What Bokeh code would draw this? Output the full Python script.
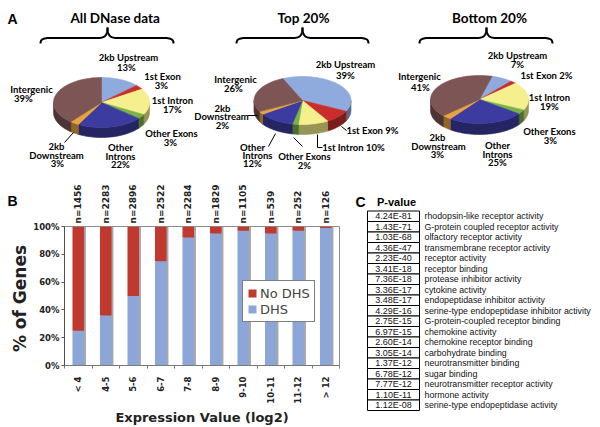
import math
from bokeh.plotting import figure
from bokeh.layouts import column, row
from bokeh.models import (Range1d, LinearAxis, FixedTicker, Legend, LegendItem,
                          PrintfTickFormatter, ColumnDataSource)
from bokeh.core.properties import value
from bokeh.transform import dodge
from bokeh.embed import file_html
from bokeh.resources import INLINE

# ---------------- data ----------------
regions = ["2kb Upstream", "1st Exon", "1st Intron", "Other Exons",
           "Other Introns", "2kb Downstream", "Intergenic"]
region_colors = ["#8FAADC", "#C92E2C", "#F5EF8E", "#78B248", "#3C3CA0", "#E9A33C", "#7D5555"]
pie_titles = ["All DNase data", "Top 20%", "Bottom 20%"]
pct_all = [13, 3, 17, 3, 22, 3, 39]
pct_top = [39, 9, 10, 2, 12, 2, 26]
pct_bottom = [7, 2, 19, 3, 25, 3, 41]

expr_bins = ["< 4", "4-5", "5-6", "6-7", "7-8", "8-9", "9-10", "10-11", "11-12", "> 12"]
n_genes = [1456, 2283, 2896, 2522, 2284, 1829, 1105, 539, 252, 126]
dhs_pct = [25, 36, 50, 75, 92, 95, 97, 95, 97, 99]
pct_ticks = [0, 20, 40, 60, 80, 100]

go_pvalues = ["4.24E-81", "1.43E-71", "1.03E-68", "4.36E-47", "2.23E-40", "3.41E-18",
              "7.36E-18", "3.36E-17", "3.48E-17", "4.29E-16", "2.75E-15", "6.97E-15",
              "2.60E-14", "3.05E-14", "1.37E-12", "6.78E-12", "7.77E-12", "1.10E-11", "1.12E-08"]
go_terms = ["rhodopsin-like receptor activity", "G-protein coupled receptor activity",
            "olfactory receptor activity", "transmembrane receptor activity",
            "receptor activity", "receptor binding", "protease inhibitor activity",
            "cytokine activity", "endopeptidase inhibitor activity",
            "serine-type endopeptidase inhibitor activity", "G-protein-coupled receptor binding",
            "chemokine activity", "chemokine receptor binding", "carbohydrate binding",
            "neurotransmitter binding", "sugar binding", "neurotransmitter receptor activity",
            "hormone activity", "serine-type endopeptidase activity"]

# ---------------- layout (page pixels) ----------------
pie_geom = [(101, 102, 48, 25, 10, 0), (302, 100, 48.5, 24, 10, -24), (479, 99, 49, 24, 11, 15)]
# title anchor x, y and alignment
title_pos = [(70, 17, "left"), (303, 17, "center"), (489, 17, "center")]
brace_pos = [(40, 173, 107), (236, 368, 302), (419, 552, 486)]
pie_label_lines = [
    ("2kb Upstream", 128, 57), ("13%", 126, 66.5), ("1st Exon", 162, 76), ("3%", 161, 85),
    ("1st Intron", 172, 100), ("17%", 172, 109), ("Other Exons", 171, 133), ("3%", 170, 142),
    ("Other", 120, 147), ("Introns", 120, 155.5), ("22%", 120, 164),
    ("2kb", 56, 146), ("Downstream", 56, 154.5), ("3%", 57, 163),
    ("Intergenic", 31, 89), ("39%", 23, 98),
    ("2kb Upstream", 345, 64), ("39%", 345, 75), ("Intergenic", 235, 79), ("26%", 233, 87.5),
    ("2kb", 222, 108), ("Downstream", 221, 116), ("2%", 222, 124.5),
    ("1st Exon 9%", 372, 129.5), ("1st Intron 10%", 353, 146.5),
    ("Other Exons", 304, 155.5), ("2%", 304, 164.5),
    ("Other", 252, 146.5), ("Introns", 257, 154.5), ("12%", 252, 163),
    ("2kb Upstream", 517, 55), ("7%", 517, 63.5), ("1st Exon 2%", 546, 75),
    ("1st Intron", 549, 97), ("19%", 549, 105.5), ("Other Exons", 549, 131), ("3%", 550, 140),
    ("Other", 497, 145), ("Introns", 497, 153.5), ("25%", 497, 162),
    ("2kb", 437, 137), ("Downstream", 438, 145.5), ("3%", 437, 153.5),
    ("Intergenic", 419, 76), ("41%", 420, 87),
]
leader_xs = [[64, 73], [247, 257], [341, 346], [317, 317, 322], [293, 302], [268, 275]]
leader_ys = [[142, 132], [115, 115], [126, 130], [134, 147, 147], [137, 146], [146, 133]]

ROW_TOP, PAGE_H = 178, 427
LEFT_W, BAR_R = 30, 352          # left strip width, right edge of the bar figure
FL, FR, FT, FB = 61, 339, 226, 369  # bar chart frame in page pixels


def darker(hx, f=0.62):
    r, g, b = int(hx[1:3], 16), int(hx[3:5], 16), int(hx[5:7], 16)
    return "#%02x%02x%02x" % (int(r * f), int(g * f), int(b * f))


def rim(g, ang, drop=0.0):
    cx, cy, rx, ry, depth, start = g
    t = math.radians(ang)
    return cx + rx * math.sin(t), cy - ry * math.cos(t) + drop


def arc(g, a, b, drop=0.0):
    n = max(2, int(abs(b - a) / 2) + 2)
    pts = [rim(g, a + (b - a) * i / (n - 1), drop) for i in range(n)]
    return [p[0] for p in pts], [p[1] for p in pts]


def cubic(p0, c0, c1, p1, n=12):
    out = []
    for i in range(n + 1):
        t = i / n
        u = 1 - t
        out.append((u ** 3 * p0[0] + 3 * u * u * t * c0[0] + 3 * u * t * t * c1[0] + t ** 3 * p1[0],
                    u ** 3 * p0[1] + 3 * u * u * t * c0[1] + 3 * u * t * t * c1[1] + t ** 3 * p1[1]))
    return out


def blank_fig(x0, x1, y0, y1):
    f = figure(width=x1 - x0, height=y1 - y0, x_range=Range1d(x0, x1), y_range=Range1d(y1, y0),
               output_backend="svg", toolbar_location=None, min_border=0,
               x_axis_location=None, y_axis_location=None)
    f.grid.visible = False
    f.outline_line_color = None
    f.frame_align = False
    return f


# ---------------- top figure: pies ----------------
top = blank_fig(0, 600, 0, ROW_TOP)

side_xs, side_ys, side_c, face_xs, face_ys, face_c = [], [], [], [], [], []
for g, pcts in zip(pie_geom, [pct_all, pct_top, pct_bottom]):
    a = g[5]
    for pct, col in zip(pcts, region_colors):
        b = a + pct * 3.6
        ax_, ay_ = arc(g, a, b)
        face_xs.append([g[0]] + ax_)
        face_ys.append([g[1]] + ay_)
        face_c.append(col)
        lo, hi = max(a, 90), min(b, 270)
        if hi > lo:
            tx, ty = arc(g, lo, hi)
            bx_, by_ = arc(g, hi, lo, g[4])
            side_xs.append(tx + bx_)
            side_ys.append(ty + by_)
            side_c.append(darker(col))
        a = b

top.patches(side_xs, side_ys, fill_color=side_c, line_color=side_c, line_width=0.6)
top.patches(face_xs, face_ys, fill_color=face_c, line_color=face_c, line_width=0.6)

brace_xs, brace_ys = [], []
ye, ym, yt = 43, 37.5, 27
for L, R, T in brace_pos:
    for s, E in ((1, L), (-1, R)):
        pts = cubic((E, ye), (E, ym + 1), (E + s * 3, ym), (E + s * 10, ym))
        pts += cubic((T - s * 10, ym), (T - s * 3, ym), (T, ym - 2), (T, yt))
        brace_xs.append([p[0] for p in pts])
        brace_ys.append([p[1] for p in pts])
top.multi_line(brace_xs, brace_ys, line_color="black", line_width=2)
top.multi_line(leader_xs, leader_ys, line_color="black", line_width=1)

top.text(x=[l[1] for l in pie_label_lines], y=[l[2] for l in pie_label_lines],
         text=[l[0] for l in pie_label_lines], text_align="center", text_baseline="middle",
         text_font=value("Lato"), text_font_style="bold", text_font_size="9.5px",
         text_color="black")
for (tx, ty, al), tt in zip(title_pos, pie_titles):
    top.text(x=[tx], y=[ty], text=[tt], text_align=al, text_baseline="middle",
             text_font=value("Lato"), text_font_style="bold", text_font_size="13.5px",
             text_color="black")
top.text(x=[12], y=[18], text=["A"], text_align="center", text_baseline="middle",
         text_font=value("Liberation Sans"), text_font_style="bold", text_font_size="14px")

# ---------------- left strip: panel letter B and y title ----------------
left = blank_fig(0, LEFT_W, ROW_TOP, PAGE_H)
left.text(x=[12], y=[200], text=["B"], text_align="center", text_baseline="middle",
          text_font=value("Liberation Sans"), text_font_style="bold", text_font_size="14px")
left.text(x=[19.5], y=[298], text=["% of Genes"], angle=math.pi / 2, text_align="center",
          text_baseline="middle", text_font=value("DejaVu Sans"), text_font_style="bold",
          text_font_size="17px", text_color="#222222")

# ---------------- bar chart ----------------
nb = len(expr_bins)
bar = figure(width=BAR_R - LEFT_W, height=PAGE_H - ROW_TOP,
             x_range=Range1d(-0.5, nb - 0.5), y_range=Range1d(0, 100),
             output_backend="svg", toolbar_location=None,
             min_border_left=FL - LEFT_W, min_border_right=BAR_R - FR,
             min_border_top=FT - ROW_TOP, min_border_bottom=PAGE_H - FB)
bar.frame_align = False
bar.grid.visible = False
bar.outline_line_color = "#8a8a8a"

src = ColumnDataSource(dict(x=list(range(nb)), dhs=dhs_pct,
                            nodhs=[100 - d for d in dhs_pct], full=[100] * nb))
bar.vbar(x=dodge("x", 0.07, range=bar.x_range), top="full", bottom=0, width=0.42,
         source=src, fill_color="#a8a8a8", line_color=None)
rs = bar.vbar_stack(["dhs", "nodhs"], x="x", width=0.42, source=src,
                    fill_color=["#8DA6D8", "#C0392F"], line_color=None)

xa = bar.xaxis[0]
xa.ticker = FixedTicker(ticks=list(range(nb)), minor_ticks=[i - 0.5 for i in range(nb + 1)])
xa.major_label_overrides = {i: b for i, b in enumerate(expr_bins)}
xa.major_label_orientation = math.pi / 2
xa.major_tick_line_color = None
xa.major_tick_out = 0
xa.minor_tick_out = 3
xa.minor_tick_in = 0
xa.minor_tick_line_color = "#7a7a7a"
xa.axis_line_color = "#7a7a7a"
xa.major_label_standoff = 8
xa.axis_label = "Expression Value (log2)"
xa.axis_label_standoff = 3
xa.axis_label_text_font = "DejaVu Sans"
xa.axis_label_text_font_style = "bold"
xa.axis_label_text_font_size = "13px"
xa.axis_label_text_color = "#222222"

ya = bar.yaxis[0]
ya.ticker = FixedTicker(ticks=pct_ticks)
ya.formatter = PrintfTickFormatter(format="%d%%")
ya.major_tick_out = 3
ya.major_tick_in = 0
ya.minor_tick_line_color = None
ya.axis_line_color = "#505050"
ya.major_tick_line_color = "#505050"
ya.major_label_standoff = 2

na = LinearAxis(ticker=FixedTicker(ticks=list(range(nb))),
                major_label_overrides={i: "n=%d" % n for i, n in enumerate(n_genes)},
                axis_line_color=None, major_tick_line_color=None, minor_tick_line_color=None,
                major_tick_out=0, major_label_standoff=3,
                major_label_orientation=math.pi / 2)
bar.add_layout(na, "above")

for ax in (xa, ya, na):
    ax.major_label_text_font = "DejaVu Sans"
    ax.major_label_text_font_style = "bold"
    ax.major_label_text_font_size = "8.5px"
    ax.major_label_text_color = "#222222"
na.major_label_text_font_size = "9px"

leg = Legend(items=[LegendItem(label="No DHS", renderers=[rs[1]]),
                    LegendItem(label="DHS", renderers=[rs[0]])],
             location=(239 - FL, FB - 326), orientation="vertical",
             glyph_width=10, glyph_height=10, label_height=16, label_standoff=3,
             spacing=0, padding=4, margin=0,
             label_text_font="DejaVu Sans", label_text_font_size="13px",
             border_line_color="black", border_line_width=1,
             background_fill_color="white", background_fill_alpha=1)
bar.add_layout(leg)

# ---------------- table C ----------------
tab = blank_fig(BAR_R, 600, ROW_TOP, PAGE_H)
row_h = 10.5
row_top0 = 210.5
rows_idx = list(range(len(go_pvalues)))
tsrc = ColumnDataSource(dict(
    top=[row_top0 + row_h * i for i in rows_idx],
    bottom=[row_top0 + row_h * (i + 1) for i in rows_idx],
    mid=[row_top0 + row_h * (i + 0.5) for i in rows_idx],
    pv=go_pvalues, term=go_terms))
tab.quad(left=367, right=419, top="top", bottom="bottom", source=tsrc,
         fill_color="white", line_color="black", line_width=1)
tab.text(x=393, y="mid", text="pv", source=tsrc, text_align="center", text_baseline="middle",
         text_font=value("Liberation Sans"), text_font_size="9px", text_color="#111111")
tab.text(x=424, y="mid", text="term", source=tsrc, text_align="left", text_baseline="middle",
         text_font=value("Liberation Sans"), text_font_size="8.8px", text_color="#111111")
tab.text(x=[360, 396], y=[201, 201], text=["C", "P-value"], text_align="center",
         text_baseline="middle", text_font=value("Liberation Sans"), text_font_style="bold",
         text_font_size=["14px", "11px"])

layout = column(top, row(left, bar, tab))
open("out.html", "w").write(file_html(layout, INLINE))
